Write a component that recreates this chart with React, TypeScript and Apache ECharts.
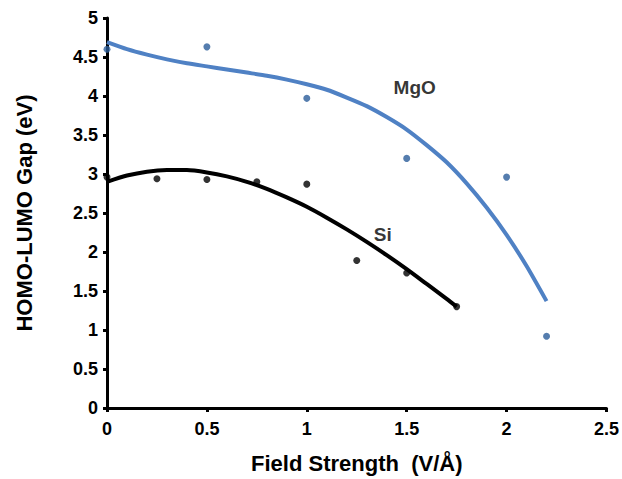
import React, { useEffect, useRef } from "react";
import * as echarts from "echarts";

const xTicks = [0, 0.5, 1, 1.5, 2, 2.5];
const yTicks = [0, 0.5, 1, 1.5, 2, 2.5, 3, 3.5, 4, 4.5, 5];

const mgoX = [0, 0.5, 1, 1.5, 2, 2.2];
const mgoY = [4.6, 4.63, 3.97, 3.2, 2.96, 0.92];

const siX = [0, 0.25, 0.5, 0.75, 1, 1.25, 1.5, 1.75];
const siY = [2.96, 2.94, 2.93, 2.9, 2.87, 1.89, 1.73, 1.3];

// trendlines
const mgoFitX = [0, 0.1, 0.2, 0.3, 0.4, 0.5, 0.6, 0.7, 0.8, 0.9, 1, 1.1, 1.2, 1.3, 1.4, 1.5, 1.6, 1.7, 1.8, 1.9, 2, 2.1, 2.2];
const mgoFitY = [4.69, 4.6, 4.53, 4.47, 4.42, 4.38, 4.34, 4.3, 4.26, 4.21, 4.15, 4.08, 3.98, 3.87, 3.73, 3.57, 3.37, 3.15, 2.88, 2.57, 2.22, 1.82, 1.37];

const siFitX = [0, 0.1, 0.2, 0.3, 0.4, 0.5, 0.6, 0.7, 0.8, 0.9, 1, 1.1, 1.2, 1.3, 1.4, 1.5, 1.6, 1.7, 1.75];
const siFitY = [2.9, 2.98, 3.03, 3.05, 3.05, 3.02, 2.97, 2.9, 2.81, 2.7, 2.58, 2.44, 2.29, 2.13, 1.96, 1.78, 1.59, 1.4, 1.3];

const labels = [
  { name: "MgO", x: 1.54, y: 4.11 },
  { name: "Si", x: 1.38, y: 2.23 },
];

const FONT = "'Liberation Sans', Arial, sans-serif";
const BLUE_LINE = "#4f81c4";
const BLUE_PT = "#2b5d9a";

export default function App() {
  const ref = useRef<HTMLDivElement>(null);
  useEffect(() => {
    if (!ref.current) return;
    const chart = echarts.init(ref.current, undefined, { renderer: "svg" });
    const zip = (xs: number[], ys: number[]) => xs.map((x, i) => [x, ys[i]]);
    chart.setOption({
      animation: false,
      backgroundColor: "#fff",
      grid: { left: 107, right: 15, top: 18, bottom: 69, containLabel: false },
      xAxis: {
        type: "value",
        min: xTicks[0],
        max: xTicks[xTicks.length - 1],
        interval: 0.5,
        name: "Field Strength  (V/Å)",
        nameLocation: "middle",
        nameGap: 44,
        nameTextStyle: { fontFamily: FONT, fontWeight: "bold", fontSize: 22, color: "#000" },
        axisLine: { lineStyle: { color: "#000", width: 3 } },
        axisTick: { show: true, length: 4, lineStyle: { color: "#000", width: 3 } },
        axisLabel: { margin: 12, fontFamily: FONT, fontWeight: "bold", fontSize: 18, color: "#000" },
        splitLine: { show: false },
      },
      yAxis: {
        type: "value",
        min: yTicks[0],
        max: yTicks[yTicks.length - 1],
        interval: 0.5,
        name: "HOMO-LUMO Gap (eV)",
        nameLocation: "middle",
        nameGap: 72,
        nameTextStyle: { fontFamily: FONT, fontWeight: "bold", fontSize: 22, color: "#000" },
        axisLine: { show: true, lineStyle: { color: "#000", width: 3 } },
        axisTick: { show: true, length: 4, lineStyle: { color: "#000", width: 3 } },
        axisLabel: { margin: 9, fontFamily: FONT, fontWeight: "bold", fontSize: 18, color: "#000" },
        splitLine: { show: false },
      },
      series: [
        {
          type: "line",
          data: zip(mgoFitX, mgoFitY),
          smooth: 0.2,
          showSymbol: false,
          lineStyle: { color: BLUE_LINE, width: 4 },
          z: 2,
        },
        {
          type: "line",
          data: zip(siFitX, siFitY),
          smooth: 0.2,
          showSymbol: false,
          lineStyle: { color: "#000", width: 4 },
          z: 2,
        },
        {
          type: "scatter",
          data: zip(mgoX, mgoY),
          symbolSize: 7,
          itemStyle: { color: BLUE_PT },
          z: 3,
        },
        {
          type: "scatter",
          data: zip(siX, siY),
          symbolSize: 7,
          itemStyle: { color: "#000" },
          z: 3,
        },
        {
          type: "scatter",
          data: labels.map((l) => ({ name: l.name, value: [l.x, l.y] })),
          symbolSize: 0,
          label: {
            show: true,
            position: "inside",
            formatter: "{b}",
            fontFamily: FONT,
            fontWeight: "bold",
            fontSize: 19,
            color: "#000",
          },
          z: 4,
        },
      ],
    });
    return () => chart.dispose();
  }, []);
  return <div ref={ref} style={{ width: 622, height: 479, position: "absolute", left: 0, top: 0 }} />;
}
